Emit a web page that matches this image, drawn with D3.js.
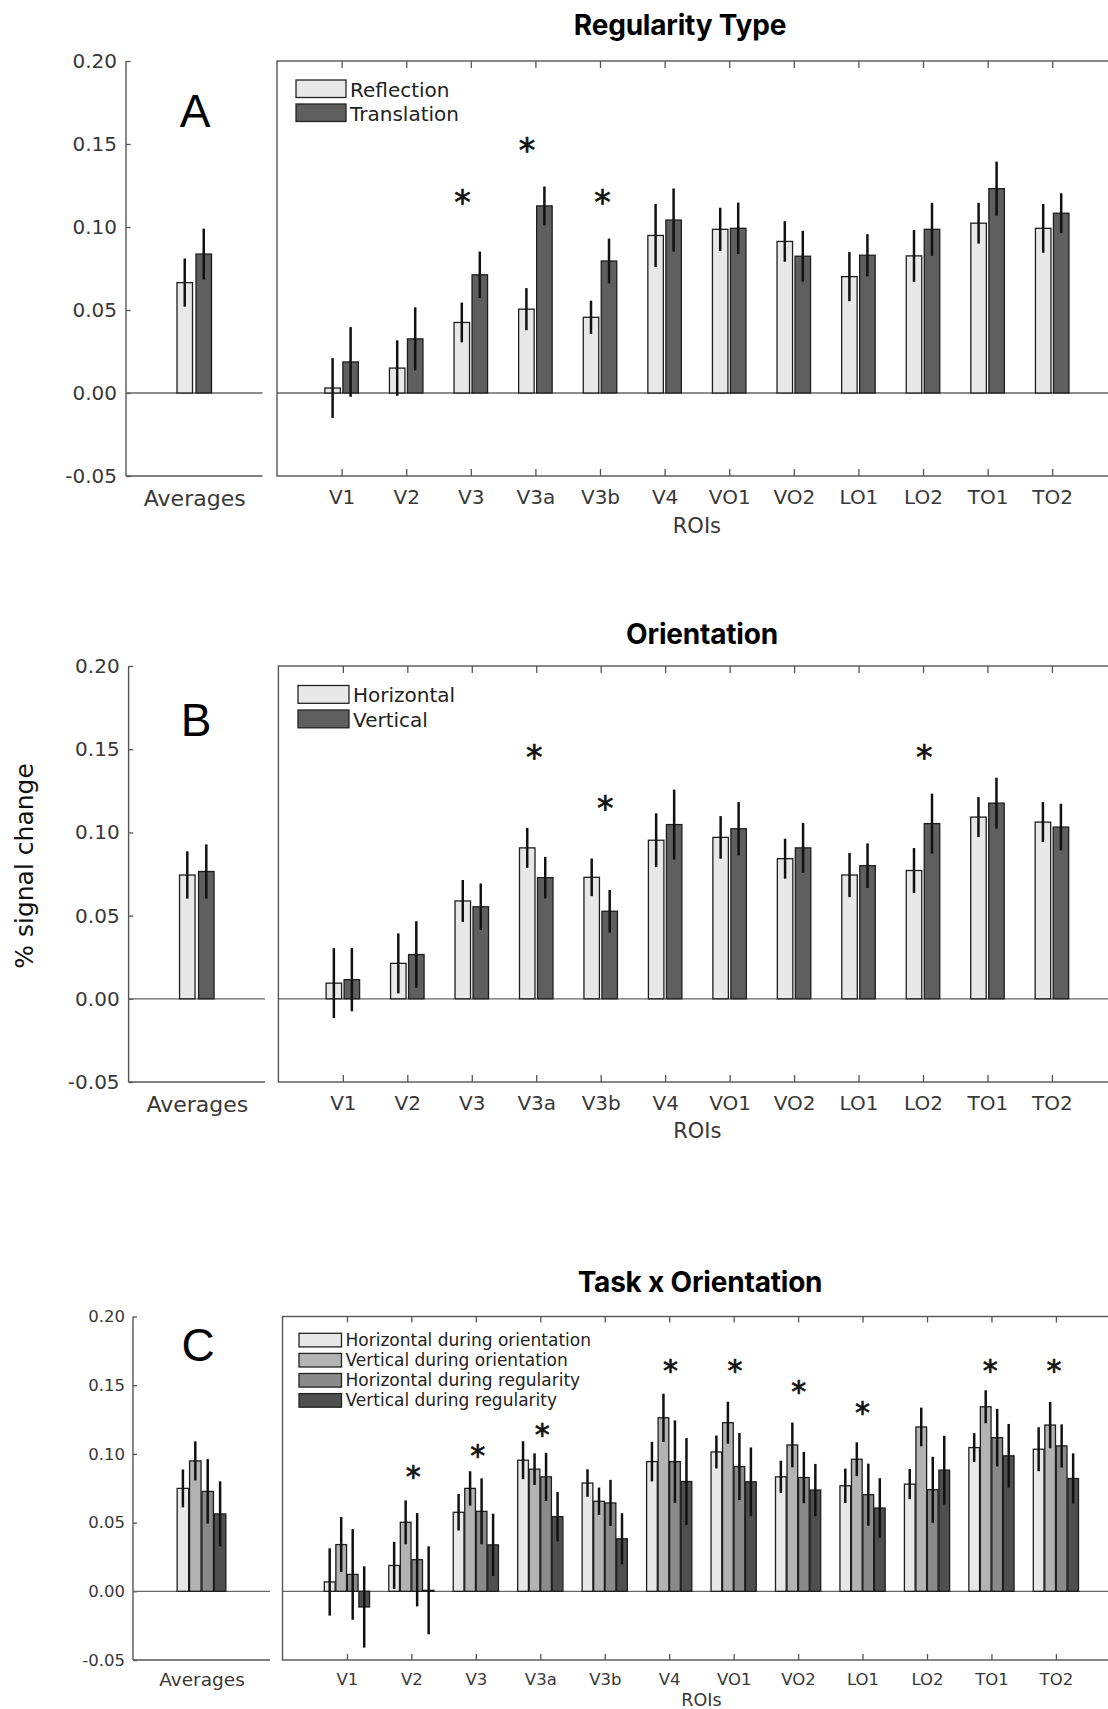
<!DOCTYPE html>
<html><head><meta charset="utf-8">
<script src="https://cdn.jsdelivr.net/npm/d3@7"></script>
<style>
body{margin:0;background:#fff}
svg{display:block}
text{font-family:"DejaVu Sans",sans-serif}
</style>
</head><body>
<svg id="chart" width="1108" height="1709"></svg>
<script>
// ---------------- DATA ----------------
const rois = ["V1","V2","V3","V3a","V3b","V4","VO1","VO2","LO1","LO2","TO1","TO2"];
const yTickValues = [-0.05, 0.00, 0.05, 0.10, 0.15, 0.20];
const avgLabel = "Averages";
const xAxisTitle = "ROIs";
const yAxisTitle = "% signal change";

// Panel A : Regularity Type
const titleA = "Regularity Type";
const seriesA = ["Reflection", "Translation"];
const reflection     = [0.003, 0.015, 0.0425, 0.0505, 0.0456, 0.0949, 0.0986, 0.0913, 0.0701, 0.0826, 0.1023, 0.0992];
const reflectionErr  = [0.018, 0.0167, 0.012, 0.0127, 0.010, 0.019, 0.013, 0.0122, 0.0148, 0.0156, 0.0123, 0.0147];
const translation    = [0.0187, 0.0326, 0.0712, 0.1127, 0.0795, 0.1042, 0.0992, 0.0824, 0.083, 0.0986, 0.1231, 0.1083];
const translationErr = [0.021, 0.019, 0.014, 0.0117, 0.0135, 0.019, 0.0155, 0.0153, 0.0127, 0.016, 0.0163, 0.012];
const averagesA      = [0.0665, 0.0837];
const averagesAErr   = [0.0145, 0.0153];
const starsA = [{x: 2.87, y: 0.117}, {x: 3.87, y: 0.1485}, {x: 5.04, y: 0.117}];

// Panel B : Orientation
const titleB = "Orientation";
const seriesB = ["Horizontal", "Vertical"];
const horizontal     = [0.0094, 0.0213, 0.0588, 0.0907, 0.073, 0.0953, 0.097, 0.0842, 0.0744, 0.0771, 0.1092, 0.1062];
const horizontalErr  = [0.021, 0.018, 0.0126, 0.012, 0.0113, 0.0162, 0.0128, 0.012, 0.0133, 0.0135, 0.012, 0.012];
const vertical       = [0.0115, 0.0266, 0.0553, 0.0728, 0.0526, 0.1047, 0.1022, 0.0907, 0.080, 0.1053, 0.1176, 0.1032];
const verticalErr    = [0.019, 0.020, 0.014, 0.0125, 0.0128, 0.021, 0.016, 0.015, 0.0134, 0.018, 0.0153, 0.014];
const averagesB      = [0.0744, 0.0765];
const averagesBErr   = [0.0142, 0.0163];
const starsB = [{x: 3.97, y: 0.1476}, {x: 5.07, y: 0.1165}, {x: 10.02, y: 0.1476}];

// Panel C : Task x Orientation
const titleC = "Task x Orientation";
const seriesC = ["Horizontal during orientation", "Vertical during orientation", "Horizontal during regularity", "Vertical during regularity"];
const hOrient    = [0.0068, 0.0188, 0.0575, 0.0954, 0.0788, 0.0944, 0.1014, 0.0833, 0.0768, 0.078, 0.1046, 0.1034];
const hOrientErr = [0.0245, 0.0172, 0.0133, 0.0138, 0.010, 0.0144, 0.012, 0.0117, 0.0125, 0.011, 0.0105, 0.016];
const vOrient    = [0.034, 0.0502, 0.0749, 0.0889, 0.0655, 0.1263, 0.1227, 0.1065, 0.0961, 0.1196, 0.1343, 0.121];
const vOrientErr = [0.020, 0.016, 0.0125, 0.0115, 0.010, 0.0175, 0.0153, 0.0163, 0.0123, 0.0141, 0.012, 0.0169];
const hReg       = [0.0123, 0.023, 0.0582, 0.0833, 0.0643, 0.0944, 0.0908, 0.0828, 0.0703, 0.0739, 0.1118, 0.1058];
const hRegErr    = [0.033, 0.034, 0.024, 0.0175, 0.0168, 0.030, 0.0244, 0.0187, 0.0226, 0.024, 0.021, 0.0157];
const vReg       = [-0.0114, 0.0007, 0.0338, 0.0543, 0.0382, 0.0799, 0.0797, 0.0737, 0.0606, 0.0882, 0.0986, 0.0821];
const vRegErr    = [0.0296, 0.032, 0.0227, 0.018, 0.0186, 0.0316, 0.025, 0.019, 0.0217, 0.025, 0.0232, 0.0183];
const averagesC    = [0.0749, 0.0949, 0.0727, 0.0563];
const averagesCErr = [0.0138, 0.0142, 0.0235, 0.0237];
const starsC = [{x: 2.03, y: 0.0864}, {x: 3.03, y: 0.1017}, {x: 4.03, y: 0.1167}, {x: 6.02, y: 0.163}, {x: 7.02, y: 0.163},
                {x: 8.01, y: 0.148}, {x: 9.0, y: 0.1324}, {x: 10.98, y: 0.163}, {x: 11.97, y: 0.163}];

// ---------------- DRAWING ----------------
const svg = d3.select("#chart");
const axisGray = "#555";
const textGray = "#383838";
const fmt = d => d.toFixed(2);

function drawPanel(p) {
  const g = svg.append("g");
  const y = d3.scaleLinear().domain([-0.05, 0.20]).range([p.bottom, p.top]);
  const x = d3.scaleLinear().domain([0, 13]).range([p.boxLeft, p.boxLeft + 13 * p.step]);
  const xAvg = d3.scaleLinear().domain([0, 2]).range([p.axisX, p.leftEnd]);
  const n = p.series.length;
  const mkBand = (w, s) => {
    const pad = 1 - w / s, W = s * (n - pad);
    return d3.scaleBand().domain(d3.range(n)).range([-W / 2, W / 2]).paddingInner(pad).paddingOuter(0);
  };
  const band = mkBand(p.barW, p.barStep);
  const bandAvg = mkBand(p.avgBarW, p.avgBarStep);

  // ----- left (averages) axes -----
  const yAxis = d3.axisLeft(y).tickValues(yTickValues).tickFormat(fmt)
    .tickSize(-p.ytick).tickSizeOuter(0).tickPadding(p.ypad);
  const ga = g.append("g").attr("transform", `translate(${p.axisX},0)`).call(yAxis);
  ga.select(".domain").remove();
  ga.selectAll(".tick line").attr("stroke", axisGray).attr("stroke-width", 1.3);
  ga.selectAll(".tick text").attr("fill", textGray).style("font-size", p.tickFont + "px");
  g.append("line").attr("x1", p.axisX).attr("x2", p.axisX).attr("y1", y(0.20)).attr("y2", y(-0.05))
    .attr("stroke", axisGray).attr("stroke-width", 1.4);
  g.append("line").attr("x1", p.axisX).attr("x2", p.leftEnd).attr("y1", y(-0.05)).attr("y2", y(-0.05))
    .attr("stroke", axisGray).attr("stroke-width", 1.4);
  g.append("line").attr("x1", p.axisX).attr("x2", p.leftEnd).attr("y1", y(0)).attr("y2", y(0))
    .attr("stroke", "#666").attr("stroke-width", 1.3);
  const avgAxis = d3.axisBottom(xAvg).tickValues([1]).tickFormat(() => avgLabel).tickSize(0).tickPadding(p.avgPad);
  const gav = g.append("g").attr("transform", `translate(0,${p.bottom})`).call(avgAxis);
  gav.select(".domain").remove();
  gav.selectAll(".tick text").attr("fill", textGray).style("font-size", p.avgFont + "px");

  // averages bars
  const avgData = p.avg.map((v, i) => ({v, e: p.avgErr[i], i}));
  g.selectAll(".avgbar").data(avgData).join("rect")
    .attr("x", d => xAvg(1) + bandAvg(d.i))
    .attr("width", bandAvg.bandwidth())
    .attr("y", d => y(Math.max(0, d.v))).attr("height", d => Math.abs(y(d.v) - y(0)))
    .attr("fill", d => p.colors[d.i]).attr("stroke", "#1e1e1e").attr("stroke-width", 1.3);
  g.selectAll(".avgerr").data(avgData).join("line")
    .attr("x1", d => xAvg(1) + bandAvg(d.i) + bandAvg.bandwidth() / 2)
    .attr("x2", d => xAvg(1) + bandAvg(d.i) + bandAvg.bandwidth() / 2)
    .attr("y1", d => y(d.v - d.e)).attr("y2", d => y(d.v + d.e))
    .attr("stroke", "#111").attr("stroke-width", 2.5);

  // ----- right box -----
  g.append("line").attr("x1", x(0)).attr("x2", x(13)).attr("y1", y(0)).attr("y2", y(0))
    .attr("stroke", "#666").attr("stroke-width", 1.3);
  g.append("rect").attr("x", x(0)).attr("y", y(0.20)).attr("width", x(13) - x(0)).attr("height", y(-0.05) - y(0.20))
    .attr("fill", "none").attr("stroke", axisGray).attr("stroke-width", 1.4);
  const xb = d3.axisBottom(x).tickValues(d3.range(1, 13)).tickFormat(i => rois[i - 1])
    .tickSize(-p.xtick).tickSizeOuter(0).tickPadding(p.xpad);
  const gxb = g.append("g").attr("transform", `translate(0,${p.bottom})`).call(xb);
  gxb.select(".domain").remove();
  gxb.selectAll(".tick line").attr("stroke", axisGray).attr("stroke-width", 1.3);
  gxb.selectAll(".tick text").attr("fill", textGray).style("font-size", p.tickFont + "px");
  const xt = d3.axisTop(x).tickValues(d3.range(1, 13)).tickFormat("").tickSize(-p.xtick).tickSizeOuter(0);
  const gxt = g.append("g").attr("transform", `translate(0,${p.top})`).call(xt);
  gxt.select(".domain").remove();
  gxt.selectAll(".tick line").attr("stroke", axisGray).attr("stroke-width", 1.3);

  // bars
  const cells = [];
  p.values.forEach((arr, s) => arr.forEach((v, i) => cells.push({v, e: p.errors[s][i], s, i})));
  g.selectAll(".bar").data(cells).join("rect")
    .attr("x", d => x(d.i + 1) + band(d.s)).attr("width", band.bandwidth())
    .attr("y", d => y(Math.max(0, d.v))).attr("height", d => Math.abs(y(d.v) - y(0)))
    .attr("fill", d => p.colors[d.s]).attr("stroke", "#1e1e1e").attr("stroke-width", 1.3);
  g.selectAll(".err").data(cells).join("line")
    .attr("x1", d => x(d.i + 1) + band(d.s) + band.bandwidth() / 2)
    .attr("x2", d => x(d.i + 1) + band(d.s) + band.bandwidth() / 2)
    .attr("y1", d => y(d.v - d.e)).attr("y2", d => y(d.v + d.e))
    .attr("stroke", "#111").attr("stroke-width", 2.5);

  // asterisks
  g.selectAll(".star").data(p.stars).join("text")
    .attr("x", d => x(d.x)).attr("y", d => y(d.y) + p.starFont * 0.47)
    .attr("text-anchor", "middle").style("font-size", p.starFont + "px")
    .attr("fill", "#111").attr("stroke", "#111").attr("stroke-width", 0.7).text("*");

  // legend
  p.series.forEach((name, s) => {
    const ly = p.legTop + s * p.legStep;
    g.append("rect").attr("x", p.legX).attr("y", ly).attr("width", p.legW).attr("height", p.legH)
      .attr("fill", p.colors[s]).attr("stroke", "#222").attr("stroke-width", 1.3);
    g.append("text").attr("x", p.legX + p.legW + 4).attr("y", ly + p.legH - 1)
      .style("font-size", p.legFont + "px").attr("fill", "#222").text(name);
  });

  // ROIs label
  g.append("text").attr("x", (x(0) + x(13)) / 2).attr("y", p.roiBase).attr("text-anchor", "middle")
    .style("font-size", p.roiFont + "px").attr("fill", textGray).text(xAxisTitle);
  // title
  g.append("text").attr("x", p.titleX).attr("y", p.titleBase).attr("text-anchor", "middle")
    .style("font-family", "Inter, 'Open Sans', sans-serif").style("font-weight", 700)
    .style("font-size", "28px").style("letter-spacing", "-0.2px").attr("fill", "#000").text(p.title);
  // panel letter
  g.append("text").attr("x", p.letterX).attr("y", p.letterBase).attr("text-anchor", "middle")
    .style("font-family", "'Liberation Sans', Arial, sans-serif").style("font-size", "46px")
    .attr("fill", "#000").text(p.letter);
}

drawPanel({
  title: titleA, letter: "A", series: seriesA, values: [reflection, translation], errors: [reflectionErr, translationErr],
  avg: averagesA, avgErr: averagesAErr, stars: starsA, colors: ["#e8e8e8", "#5f5f5f"],
  top: 61, bottom: 476, axisX: 126, leftEnd: 262.5, boxLeft: 277, step: 64.6,
  barW: 15.5, barStep: 18, avgBarW: 15.5, avgBarStep: 19,
  ytick: 4.6, ypad: 9, xtick: 7, xpad: 14, avgPad: 14, tickFont: 20, avgFont: 22, starFont: 33, roiFont: 21,
  legX: 296, legTop: 80, legStep: 24, legW: 50, legH: 17.5, legFont: 20,
  roiBase: 533, titleX: 680, titleBase: 35, letterX: 195, letterBase: 127
});
drawPanel({
  title: titleB, letter: "B", series: seriesB, values: [horizontal, vertical], errors: [horizontalErr, verticalErr],
  avg: averagesB, avgErr: averagesBErr, stars: starsB, colors: ["#e8e8e8", "#5f5f5f"],
  top: 666, bottom: 1082, axisX: 128.6, leftEnd: 265, boxLeft: 278.4, step: 64.46,
  barW: 15.5, barStep: 18, avgBarW: 15.5, avgBarStep: 19,
  ytick: 4.6, ypad: 9, xtick: 7, xpad: 14, avgPad: 14, tickFont: 20, avgFont: 22, starFont: 33, roiFont: 21,
  legX: 298, legTop: 685.5, legStep: 24.5, legW: 51, legH: 17.8, legFont: 20,
  roiBase: 1138, titleX: 702, titleBase: 644, letterX: 196, letterBase: 736
});
drawPanel({
  title: titleC, letter: "C", series: seriesC, values: [hOrient, vOrient, hReg, vReg],
  errors: [hOrientErr, vOrientErr, hRegErr, vRegErr],
  avg: averagesC, avgErr: averagesCErr, stars: starsC, colors: ["#e8e8e8", "#b3b3b3", "#8a8a8a", "#4f4f4f"],
  top: 1316.5, bottom: 1660, axisX: 133, leftEnd: 270, boxLeft: 282.5, step: 64.45,
  barW: 10.7, barStep: 11.5, avgBarW: 11.5, avgBarStep: 12.4,
  ytick: 4, ypad: 8, xtick: 6, xpad: 13, avgPad: 13, tickFont: 16.5, avgFont: 18.5, starFont: 30, roiFont: 17.5,
  legX: 299, legTop: 1333.3, legStep: 20.1, legW: 42.5, legH: 13.6, legFont: 17,
  roiBase: 1706, titleX: 700, titleBase: 1292, letterX: 198, letterBase: 1361
});

// y-axis title
svg.append("text").attr("transform", "translate(24,866) rotate(-90)")
  .attr("text-anchor", "middle").attr("dominant-baseline", "central")
  .style("font-size", "25px").attr("fill", "#111").text(yAxisTitle);
</script>
</body></html>
